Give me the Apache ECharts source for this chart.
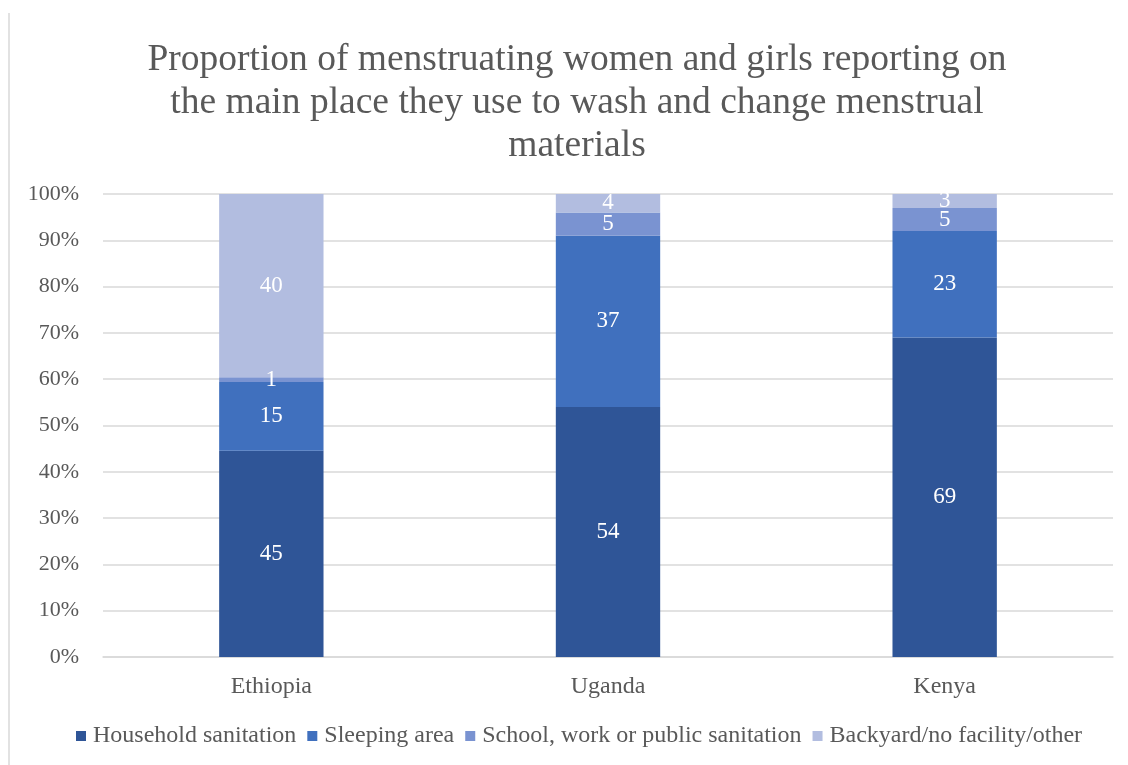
<!DOCTYPE html>
<html>
<head>
<meta charset="utf-8">
<script src="https://cdn.jsdelivr.net/npm/echarts@6/dist/echarts.min.js"></script>
<style>
html,body{margin:0;padding:0;background:#fff;}
#c{width:1128px;height:765px;}
</style>
</head>
<body>
<div id="c"></div>
<script>
const categories = ['Ethiopia', 'Uganda', 'Kenya'];
const seriesNames = ['Household sanitation', 'Sleeping area', 'School, work or public sanitation', 'Backyard/no facility/other'];
const household = [45, 54, 69];
const sleeping = [15, 37, 23];
const school = [1, 5, 5];
const backyard = [40, 4, 3];
const yTicks = ['0%', '10%', '20%', '30%', '40%', '50%', '60%', '70%', '80%', '90%', '100%'];

const raw = [household, sleeping, school, backyard];
const totals = categories.map((c, i) => raw.reduce((s, a) => s + a[i], 0));
const colors = ['#2F5597', '#4070BE', '#7A93D1', '#B2BDE0'];
const FONT = '"Liberation Serif", "Times New Roman", serif';

const chart = echarts.init(document.getElementById('c'), null, {renderer: 'canvas'});
chart.setOption({
  animation: false,
  color: colors,
  title: {
    text: 'Proportion of menstruating women and girls reporting on\nthe main place they use to wash and change menstrual\nmaterials',
    left: 572,
    top: 34,
    textAlign: 'center',
    textStyle: {fontFamily: FONT, fontSize: 37.5, fontWeight: 'normal', color: '#595959', lineHeight: 43}
  },
  graphic: [{
    type: 'line', shape: {x1: 9, y1: 13, x2: 9, y2: 765},
    style: {stroke: '#D9D9D9', lineWidth: 1.5}
  }],
  legend: {
    bottom: 12,
    left: 71,
    padding: 5,
    itemWidth: 10,
    itemHeight: 10,
    itemGap: 11,
    icon: 'rect',
    textStyle: {fontFamily: FONT, fontSize: 24, color: '#595959', padding: [0, 0, 0, 2]},
    data: seriesNames
  },
  grid: {left: 103, right: 15, top: 194, bottom: 108},
  xAxis: {
    type: 'category',
    data: categories,
    axisLine: {lineStyle: {color: '#D9D9D9', width: 1.5}},
    axisTick: {show: false},
    axisLabel: {fontFamily: FONT, fontSize: 24, color: '#595959', margin: 18}
  },
  yAxis: {
    type: 'value',
    min: 0, max: 100, interval: 10,
    axisLine: {show: false},
    axisTick: {show: false},
    splitLine: {lineStyle: {color: '#D9D9D9', width: 1.5}},
    axisLabel: {fontFamily: FONT, fontSize: 22, color: '#595959', margin: 24,
      formatter: v => yTicks[Math.round(v / 10)]}
  },
  series: raw.map((arr, k) => ({
    name: seriesNames[k],
    type: 'bar',
    stack: 'total',
    barWidth: '31%',
    data: arr.map((v, i) => ({value: v / totals[i] * 100})),
    label: {
      show: true,
      position: 'inside',
      color: '#FFFFFF',
      fontFamily: FONT,
      fontSize: 23,
      formatter: p => String(arr[p.dataIndex])
    },
    itemStyle: {color: colors[k]},
    emphasis: {disabled: true}
  }))
});
</script>
</body>
</html>
